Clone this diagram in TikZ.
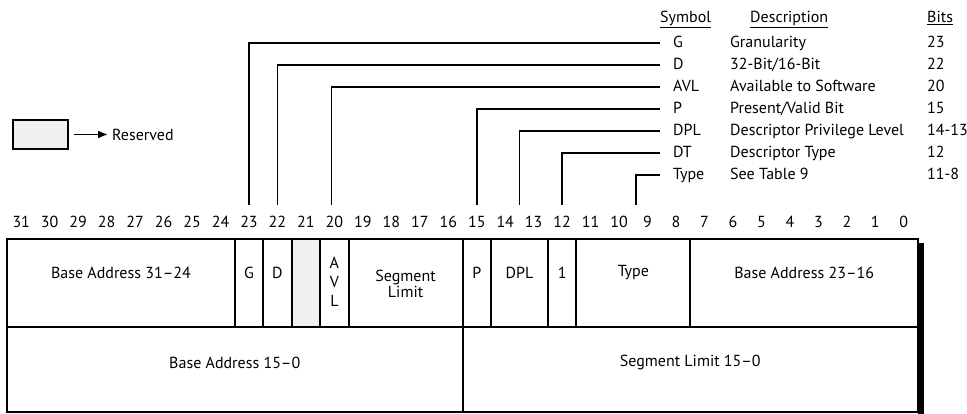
\documentclass[tikz,border=0pt]{standalone}
\usepackage{fontspec}
\setmainfont{PT Sans}
\usetikzlibrary{arrows.meta}
\newcommand\fld[6]{%
  \node[field, #6, minimum width={(#3-#2)*28.47pt}, minimum height={(#5-#4)*1pt}]
    (#1) at ({7+(#2+#3)/2*28.47},{(#4+#5)/2}) {};}
\begin{document}
\begin{tikzpicture}[x=1pt,y=-1pt,
  font=\fontsize{16}{18}\selectfont,
  lbl/.style={inner sep=0pt},
  tbl/.style={inner sep=0pt, anchor=base west},
  field/.style={draw, line width=2pt, inner sep=0pt},
  reserved/.style={fill=black!6},
  plain/.style={},
  leader/.style={draw, line width=1.8pt}]
\useasboundingbox (0,0) rectangle (967,414);

% legend
\node[field, reserved, minimum width=55pt, minimum height=29pt] (resbox) at (40.5,134.5) {};
\node[lbl, anchor=west] (reslbl) at (112,134.5) {Reserved};
\draw[line width=1.8pt, -{Latex[length=10pt,width=8pt]}] ([xshift=5pt]resbox.east) -- ([xshift=-4pt]reslbl.west);

% table headers
\node[tbl] (hsym) at (660,23) {\underline{Symbol}};
\node[tbl] (hdesc) at (750,23) {\underline{Description}};
\node[tbl] (hbits) at (927,23) {\underline{Bits}};

% table rows
\foreach \n/\s/\d/\b [count=\i from 0] in
  {G/G/Granularity/23, D/D/{32-Bit/16-Bit}/22, AVL/AVL/Available to Software/20,
   P/P/{Present/Valid Bit}/15, DPL/DPL/Descriptor Privilege Level/14-13,
   DT/DT/Descriptor Type/12, Type/Type/See Table 9/11-8}{
  \node[tbl] (s\n) at (673,{48+22*\i}) {\s};
  \node[tbl] (d\n) at (730,{48+22*\i}) {\d};
  \node[tbl] (b\n) at (927,{48+22*\i}) {\b};
}

% bit numbers
\foreach \b in {0,...,31}
  \node[lbl] (bit\b) at ({7+(31.5-\b)*28.47},222) {\b};

% fields, top row
\fld{fBaseHi}{0}{8}{239}{327}{plain}
\fld{fG}{8}{9}{239}{327}{plain}
\fld{fD}{9}{10}{239}{327}{plain}
\fld{fRes}{10}{11}{239}{327}{reserved}
\fld{fAVL}{11}{12}{239}{327}{plain}
\fld{fSegHi}{12}{16}{239}{327}{plain}
\fld{fP}{16}{17}{239}{327}{plain}
\fld{fDPL}{17}{19}{239}{327}{plain}
\fld{fDT}{19}{20}{239}{327}{plain}
\fld{fType}{20}{24}{239}{327}{plain}
\fld{fBaseMid}{24}{32}{239}{327}{plain}
% fields, bottom row
\fld{fBaseLo}{0}{16}{327}{412}{plain}
\fld{fSegLo}{16}{32}{327}{412}{plain}

% shadow on the right
\fill (918,243) rectangle (924,414);

% field labels
\node[lbl] (tBaseHi) at ([yshift=10pt]fBaseHi.center) {Base Address 31--24};
\node[lbl] (tG) at ([yshift=10pt]fG.center) {G};
\node[lbl] (tD) at ([yshift=10pt]fD.center) {D};
\node[lbl, align=center, font=\fontsize{16}{19}\selectfont] (tAVL) at ([yshift=1pt]fAVL.center) {A\\V\\L};
\node[lbl, align=center, font=\fontsize{16}{14}\selectfont] (tSeg) at ([yshift=-1pt]fSegHi.center) {Segment\\Limit};
\node[lbl] (tP) at ([yshift=10pt]fP.center) {P};
\node[lbl] (tDPL) at ([yshift=10pt]fDPL.center) {DPL};
\node[lbl] (tDT) at ([yshift=10pt]fDT.center) {1};
\node[lbl] (tType) at ([yshift=10pt]fType.center) {Type};
\node[lbl] (tBaseMid) at ([yshift=10pt]fBaseMid.center) {Base Address 23--16};
\node[lbl] (tBaseLo) at ([yshift=7pt]fBaseLo.center) {Base Address 15--0};
\node[lbl] (tSegLo) at ([yshift=7pt]fSegLo.center) {Segment Limit 15--0};

% leaders
\coordinate (footrow) at (0,205);
\foreach \f/\n/\dx in {fG/G/0, fD/D/0, fAVL/AVL/-3, fP/P/0, fDPL/DPL/0, fDT/DT/0, fType/Type/3}{
  \draw[leader] ([xshift=\dx pt]\f.center |- footrow) |- ([xshift=-13pt,yshift=5pt]s\n.base west);
}
\end{tikzpicture}
\end{document}
